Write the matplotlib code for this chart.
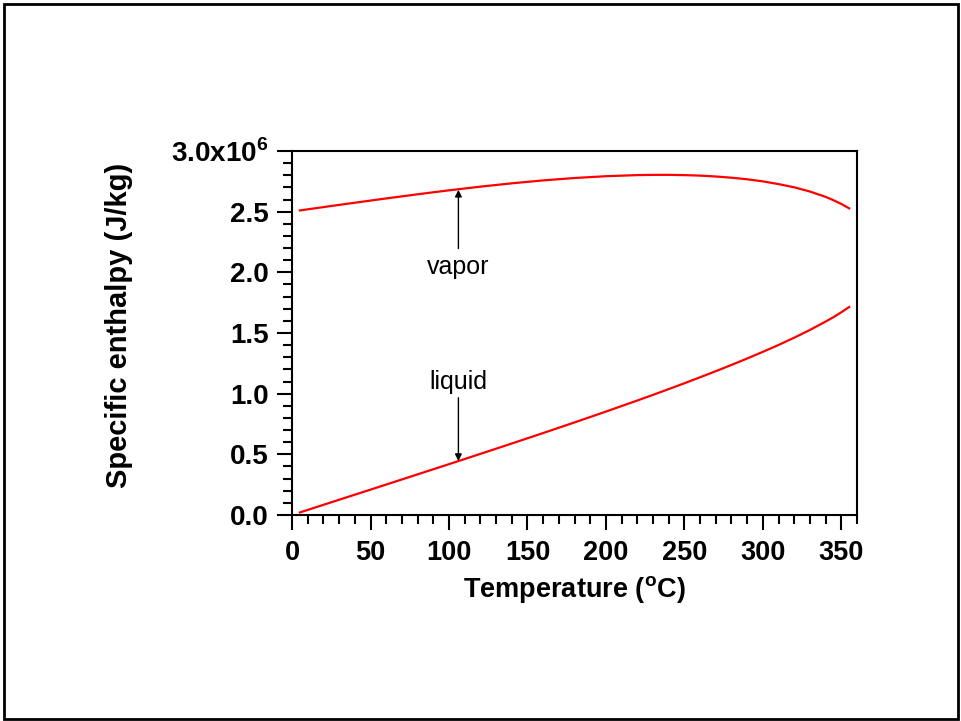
import matplotlib
matplotlib.use("Agg")
import matplotlib.pyplot as plt
from matplotlib.ticker import MultipleLocator, FixedLocator
from matplotlib.patches import Rectangle

plt.rcParams['font.family'] = ['Liberation Sans', 'DejaVu Sans']
plt.rcParams['mathtext.fontset'] = 'custom'
plt.rcParams['mathtext.rm'] = 'Liberation Sans'
plt.rcParams['mathtext.bf'] = 'Liberation Sans:bold'

# Saturation temperature (°C)
temperature = [5, 10, 20, 30, 40, 50, 60, 70, 80, 90, 100, 120, 140, 160, 180,
               200, 220, 230, 240, 250, 260, 270, 280, 290, 300, 310, 320, 330,
               340, 345, 350, 355]
# Specific enthalpy, saturated liquid (J/kg)
h_liquid = [21.0e3, 42.0e3, 83.9e3, 125.7e3, 167.5e3, 209.3e3, 251.1e3, 293.0e3,
            335.0e3, 377.0e3, 419.1e3, 503.8e3, 589.2e3, 675.5e3, 763.1e3,
            852.3e3, 943.6e3, 990.1e3, 1037.6e3, 1085.8e3, 1135.0e3, 1185.2e3,
            1236.8e3, 1289.9e3, 1344.8e3, 1401.3e3, 1461.3e3, 1525.3e3,
            1594.2e3, 1630.7e3, 1670.9e3, 1714.0e3]
# Specific enthalpy, saturated vapor (J/kg)
h_vapor = [2510.1e3, 2519.2e3, 2537.4e3, 2555.6e3, 2573.5e3, 2591.3e3, 2608.8e3,
           2626.1e3, 2643.0e3, 2659.6e3, 2675.6e3, 2706.0e3, 2733.5e3, 2757.5e3,
           2777.2e3, 2792.0e3, 2801.1e3, 2803.0e3, 2803.2e3, 2801.0e3, 2797.0e3,
           2789.7e3, 2779.8e3, 2766.7e3, 2749.6e3, 2727.0e3, 2700.6e3, 2665.8e3,
           2622.0e3, 2594.0e3, 2563.6e3, 2527.0e3]

x_ticks = [0, 50, 100, 150, 200, 250, 300, 350]
y_ticks = [0.0, 0.5e6, 1.0e6, 1.5e6, 2.0e6, 2.5e6, 3.0e6]
y_tick_labels = ['0.0', '0.5', '1.0', '1.5', '2.0', '2.5', r'3.0x10$^{\mathbf{6}}$']

fig = plt.figure(figsize=(9.61, 7.21), dpi=100)
ax = fig.add_axes([0.3039, 0.2857, 0.5879, 0.5049])

ax.plot(temperature, h_liquid, color='#ff0000', lw=1.6)
ax.plot(temperature, h_vapor, color='#ff0000', lw=1.6)

ax.set_xlim(0, 360)
ax.set_ylim(0, 3.0e6)
ax.xaxis.set_major_locator(FixedLocator(x_ticks))
ax.xaxis.set_minor_locator(MultipleLocator(10))
ax.yaxis.set_major_locator(FixedLocator(y_ticks))
ax.yaxis.set_minor_locator(MultipleLocator(0.1e6))
ax.set_xticklabels([str(t) for t in x_ticks])
ax.set_yticklabels(y_tick_labels)

for s in ax.spines.values():
    s.set_linewidth(1.5)
ax.tick_params(which='major', direction='out', length=11, width=1.5,
               labelsize=20, pad=6)
ax.tick_params(which='minor', direction='out', length=6.5, width=1.5)
ax.tick_params(axis='x', top=False, pad=7, labelsize=19.5)
ax.tick_params(axis='y', right=False)
for lab in ax.get_xticklabels() + ax.get_yticklabels():
    lab.set_fontweight('bold')

ax.set_xlabel(r'Temperature ($^{\mathbf{o}}$C)', fontsize=19.5, fontweight='bold', labelpad=6)
ax.set_ylabel('Specific enthalpy (J/kg)', fontsize=21, fontweight='bold')
ax.yaxis.set_label_coords(-0.281, 0.522)

# annotations
ax.annotate('vapor', xy=(106, 2.68e6), xytext=(106, 2.04e6),
            ha='center', va='center', fontsize=18,
            arrowprops=dict(arrowstyle='-|>', color='black', lw=1, shrinkA=3, shrinkB=0,
                            mutation_scale=10))
ax.annotate('liquid', xy=(106, 0.445e6), xytext=(106, 1.10e6),
            ha='center', va='center', fontsize=18,
            arrowprops=dict(arrowstyle='-|>', color='black', lw=1, shrinkA=1, shrinkB=0,
                            mutation_scale=10))

fig.add_artist(Rectangle((0.004, 0.003), 0.993, 0.992, transform=fig.transFigure,
                         fill=False, edgecolor='black', lw=2))

fig.savefig('out.png', dpi=100)
